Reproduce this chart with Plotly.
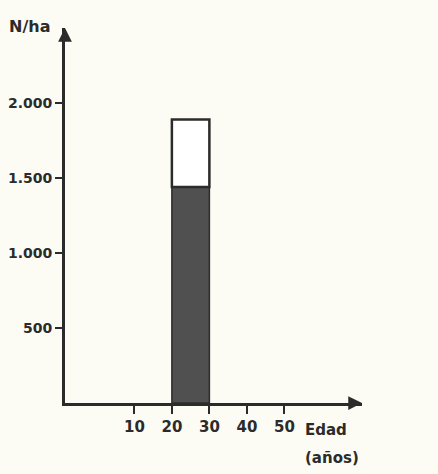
import plotly.graph_objects as go

# Data
age_class_mid = [25]          # Edad class 20-30 años
class_width = [10]
dark_value = [1440]            # lower (dark) part, N/ha
total_value = [1890]           # total bar height, N/ha
y_tickvals = [500, 1000, 1500, 2000]
y_ticktext = ["500", "1.000", "1.500", "2.000"]
x_tickvals = [10, 20, 30, 40, 50]
x_ticktext = ["10", "20", "30", "40", "50"]

ink = "#2b2b2b"
bg = "#fcfcf4"
font_family = "DejaVu Sans"

upper = [t - d for t, d in zip(total_value, dark_value)]

fig = go.Figure()
fig.add_trace(go.Bar(
    x=age_class_mid, y=dark_value, width=class_width, base=[0],
    marker=dict(color="#505050", line=dict(color=ink, width=1.5)),
    showlegend=False,
))
fig.add_trace(go.Bar(
    x=age_class_mid, y=upper, width=class_width, base=dark_value,
    marker=dict(color="#ffffff", line=dict(color=ink, width=2.5)),
    showlegend=False,
))

x0, x1 = -8.5, 70.7
y0, y1 = 0, 2500

fig.update_layout(
    width=438, height=474,
    margin=dict(l=65, r=76, t=28, b=71, autoexpand=False),
    paper_bgcolor=bg, plot_bgcolor=bg,
    barmode="overlay",
    font=dict(family=font_family, color=ink),
    xaxis=dict(
        range=[x0, x1], showgrid=False, zeroline=False,
        showline=True, linecolor=ink, linewidth=3,
        ticks="outside", ticklen=8, tickwidth=1.5, tickcolor=ink,
        tickvals=x_tickvals, ticktext=x_ticktext,
        tickfont=dict(size=15, family=font_family, color=ink, weight="bold"),
        automargin=False, fixedrange=True,
    ),
    yaxis=dict(
        range=[y0, y1], showgrid=False, zeroline=False,
        showline=True, linecolor=ink, linewidth=3,
        ticks="outside", ticklen=7, tickwidth=1.5, tickcolor=ink,
        tickvals=y_tickvals, ticktext=y_ticktext,
        tickfont=dict(size=14, family=font_family, color=ink, weight="bold"),
        automargin=False, fixedrange=True,
    ),
    annotations=[
        # arrowheads on axes
        dict(x=x1, y=0, xref="x", yref="y", ax=-13, ay=0, text="",
             showarrow=True, arrowhead=2, arrowsize=1.1, arrowwidth=2.5,
             arrowcolor=ink),
        dict(x=x0, y=y1, xref="x", yref="y", ax=0, ay=13, text="",
             showarrow=True, arrowhead=2, arrowsize=1.1, arrowwidth=2.5,
             arrowcolor=ink),
        dict(x=-0.045, y=1.005, xref="paper", yref="paper", text="N/ha",
             showarrow=False, xanchor="right", yanchor="middle",
             font=dict(size=16, family=font_family, color=ink, weight="bold")),
        dict(x=0.88, y=-0.072, xref="paper", yref="paper", text="Edad",
             showarrow=False, xanchor="center", yanchor="middle",
             font=dict(size=15, family=font_family, color=ink, weight="bold")),
        dict(x=0.90, y=-0.147, xref="paper", yref="paper", text="(años)",
             showarrow=False, xanchor="center", yanchor="middle",
             font=dict(size=15, family=font_family, color=ink, weight="bold")),
    ],
)

fig.write_html("out.html")
